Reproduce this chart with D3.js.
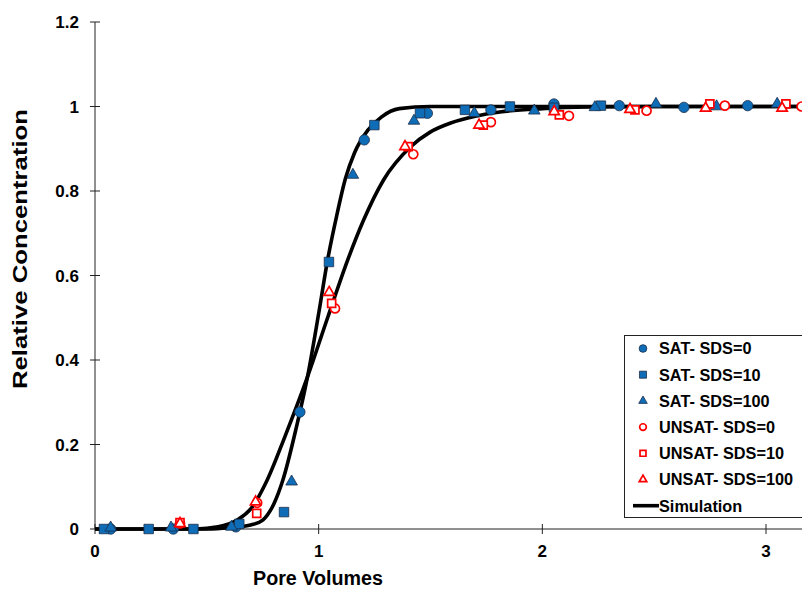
<!DOCTYPE html>
<html>
<head>
<meta charset="utf-8">
<script src="https://cdn.jsdelivr.net/npm/d3@7"></script>
<style>
  body { margin: 0; background: #fff; }
  svg { display: block; font-family: "Liberation Sans", Arial, sans-serif; font-weight: bold; }
</style>
</head>
<body>
<svg id="chart" width="802" height="589"></svg>
<script>
// simulation curves
const simSatX = [0, 0.5, 0.6, 0.7, 0.75, 0.8, 0.84, 0.9, 0.95, 1.0, 1.04, 1.08, 1.12, 1.16, 1.22, 1.28, 1.36, 1.5, 3.2];
const simSatY = [0, 0, 0.003, 0.01, 0.021, 0.06, 0.116, 0.24, 0.36, 0.51, 0.637, 0.74, 0.83, 0.89, 0.944, 0.975, 0.995, 1, 1];
const simUnsatX = [0, 0.45, 0.55, 0.635, 0.7, 0.77, 0.85, 0.95, 1.04, 1.13, 1.2, 1.29, 1.41, 1.5, 1.59, 1.7, 1.81, 2.0, 2.2, 2.5, 3.2];
const simUnsatY = [0, 0, 0.005, 0.021, 0.05, 0.116, 0.22, 0.36, 0.5, 0.637, 0.73, 0.826, 0.904, 0.94, 0.961, 0.977, 0.987, 0.995, 0.999, 1, 1];

// measured points
const sat0X = [0.07, 0.35, 0.63, 0.916, 1.204, 1.486, 1.77, 2.052, 2.344, 2.633, 2.918];
const sat0Y = [0, 0, 0.005, 0.277, 0.921, 0.984, 0.992, 1.006, 1.002, 0.998, 1.002];
const sat10X = [0.04, 0.24, 0.44, 0.645, 0.845, 1.046, 1.249, 1.453, 1.654, 1.855, 2.052, 2.262];
const sat10Y = [0, 0, 0, 0.012, 0.04, 0.632, 0.956, 0.984, 0.992, 1.0, 0.997, 1.002];
const sat100X = [0.07, 0.34, 0.61, 0.879, 1.153, 1.426, 1.696, 1.964, 2.235, 2.508, 2.779, 3.05];
const sat100Y = [0.003, 0.003, 0.005, 0.112, 0.838, 0.966, 0.984, 0.99, 0.998, 1.006, 1.0, 1.006];
const unsat0X = [0.38, 0.725, 1.073, 1.423, 1.77, 2.119, 2.466, 2.816, 3.159];
const unsat0Y = [0.013, 0.062, 0.522, 0.887, 0.963, 0.978, 0.99, 1.002, 1.0];
const unsat10X = [0.38, 0.723, 1.058, 1.40, 1.736, 2.076, 2.414, 2.749, 3.089];
const unsat10Y = [0.015, 0.037, 0.534, 0.905, 0.956, 0.98, 0.992, 1.006, 1.006];
const unsat100X = [0.38, 0.718, 1.047, 1.386, 1.717, 2.053, 2.392, 2.73, 3.072];
const unsat100Y = [0.013, 0.064, 0.56, 0.905, 0.956, 0.988, 0.993, 0.996, 0.996];

const xTicks = [0, 1, 2, 3];
const yTicks = [0, 0.2, 0.4, 0.6, 0.8, 1, 1.2];
const legendLabels = ["SAT- SDS=0", "SAT- SDS=10", "SAT- SDS=100", "UNSAT- SDS=0", "UNSAT- SDS=10", "UNSAT- SDS=100", "Simulation"];

const svg = d3.select("#chart");
const x = d3.scaleLinear().domain([0, 3.2]).range([95, 95 + 3.2 * 223.67]);
const y = d3.scaleLinear().domain([0, 1.2]).range([529, 22]);

const BLUE = "#0f6cb6", BLUE_EDGE = "#1c2f4a", RED = "#ff0000";

// axes
svg.append("line").attr("x1", x(0)).attr("x2", x(0)).attr("y1", y(1.2)).attr("y2", y(0))
  .attr("stroke", "#222").attr("stroke-width", 1);
svg.append("line").attr("x1", x(0)).attr("x2", 802).attr("y1", y(0)).attr("y2", y(0))
  .attr("stroke", "#222").attr("stroke-width", 1);

yTicks.forEach(t => {
  svg.append("line").attr("x1", x(0) - 5).attr("x2", x(0) + 5).attr("y1", y(t)).attr("y2", y(t))
    .attr("stroke", "#222");
  svg.append("text").attr("x", 79).attr("y", y(t)).attr("dy", "0.36em")
    .attr("text-anchor", "end").attr("font-size", 17).text(d3.format("")(t));
});
xTicks.forEach(t => {
  svg.append("line").attr("x1", x(t)).attr("x2", x(t)).attr("y1", y(0) - 5).attr("y2", y(0) + 5)
    .attr("stroke", "#222");
  svg.append("text").attr("x", x(t)).attr("y", 557)
    .attr("text-anchor", "middle").attr("font-size", 17).text(t);
});

svg.append("text").attr("x", 318).attr("y", 585).attr("text-anchor", "middle")
  .attr("font-size", 19.5).attr("textLength", 130).attr("lengthAdjust", "spacingAndGlyphs")
  .text("Pore Volumes");
svg.append("text").attr("transform", "translate(27,249) rotate(-90)").attr("text-anchor", "middle")
  .attr("font-size", 21).attr("textLength", 280).attr("lengthAdjust", "spacingAndGlyphs")
  .text("Relative Concentration");

// simulation lines
const line = d3.line().x(d => x(d[0])).y(d => y(d[1])).curve(d3.curveMonotoneX);
[[simSatX, simSatY], [simUnsatX, simUnsatY]].forEach(([xs, ys]) => {
  svg.append("path").datum(xs.map((v, i) => [v, ys[i]]))
    .attr("d", line).attr("fill", "none").attr("stroke", "#000").attr("stroke-width", 3.6);
});

// markers
const series = [
  { xs: sat0X, ys: sat0Y, type: d3.symbolCircle, size: 85, fill: BLUE, stroke: BLUE_EDGE, sw: 0.8 },
  { xs: sat10X, ys: sat10Y, type: d3.symbolSquare, size: 90, fill: BLUE, stroke: BLUE_EDGE, sw: 0.8 },
  { xs: sat100X, ys: sat100Y, type: d3.symbolTriangle, size: 58, fill: BLUE, stroke: BLUE_EDGE, sw: 0.8 },
  { xs: unsat0X, ys: unsat0Y, type: d3.symbolCircle, size: 64, fill: "#fff", stroke: RED, sw: 1.7 },
  { xs: unsat10X, ys: unsat10Y, type: d3.symbolSquare, size: 64, fill: "#fff", stroke: RED, sw: 1.7 },
  { xs: unsat100X, ys: unsat100Y, type: d3.symbolTriangle, size: 46, fill: "#fff", stroke: RED, sw: 1.7 }
];
series.forEach(s => {
  const sym = d3.symbol().type(s.type).size(s.size);
  svg.append("g").selectAll("path").data(s.xs.map((v, i) => [v, s.ys[i]])).join("path")
    .attr("d", sym)
    .attr("transform", d => `translate(${x(d[0])},${y(d[1])})`)
    .attr("fill", s.fill).attr("stroke", s.stroke).attr("stroke-width", s.sw);
});

// legend
const lg = svg.append("g");
lg.append("rect").attr("x", 624.5).attr("y", 335.5).attr("width", 200).attr("height", 182)
  .attr("fill", "#fff").attr("stroke", "#222").attr("stroke-width", 1);
legendLabels.forEach((lab, i) => {
  const ly = 348.5 + i * 26.2;
  if (i < series.length) {
    const s = series[i];
    lg.append("path").attr("d", d3.symbol().type(s.type).size(s.size * 0.55)())
      .attr("transform", `translate(643,${ly})`)
      .attr("fill", s.fill).attr("stroke", s.stroke).attr("stroke-width", s.sw);
  } else {
    lg.append("line").attr("x1", 633).attr("x2", 659).attr("y1", ly).attr("y2", ly)
      .attr("stroke", "#000").attr("stroke-width", 3.6);
  }
  lg.append("text").attr("x", 659).attr("y", ly).attr("dy", "0.36em")
    .attr("font-size", 16.3).text(lab);
});
</script>
</body>
</html>
